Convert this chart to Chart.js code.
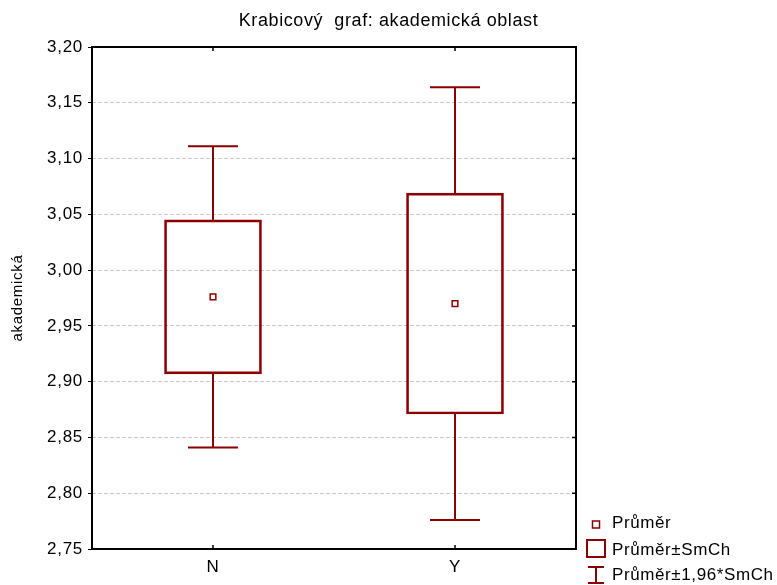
<!DOCTYPE html>
<html lang="cs">
  <head>
    <meta charset="UTF-8" />
    <title>Krabicový graf: akademická oblast</title>
    <script src="https://cdn.jsdelivr.net/npm/chart.js"></script>
    <style>
      body { margin: 0; background: #fff; }
      #wrap { width: 777px; height: 585px; }
    </style>
  </head>
  <body>
    <div id="wrap"><canvas id="boxChart"></canvas></div>
    <script>
      const categories = ["N", "Y"];
      const means = [2.976, 2.970];
      const boxLow = [2.907, 2.871];
      const boxHigh = [3.045, 3.069];
      const whiskerLow = [2.841, 2.776];
      const whiskerHigh = [3.111, 3.164];
      const legendLabels = ["Průměr", "Průměr±SmCh", "Průměr±1,96*SmCh"];
      const chartTitle = "Krabicový  graf: akademická oblast";

      const red = "#8b0000";
      const font = "Liberation Sans, Arial, sans-serif";

      const boxPlugin = {
        id: "boxExtras",
        beforeDraw(chart) {
          // the reference text is set a bit looser than Liberation Sans
          chart.ctx.letterSpacing = "0.7px";
        },
        beforeDatasetsDraw(chart) {
          const { ctx, scales } = chart;
          const x = scales.x, y = scales.y;
          ctx.save();
          ctx.strokeStyle = red;
          ctx.lineWidth = 2;
          categories.forEach((c, i) => {
            const cx = x.getPixelForValue(i);
            const half = 25;
            ctx.beginPath();
            ctx.moveTo(cx, y.getPixelForValue(whiskerHigh[i]));
            ctx.lineTo(cx, y.getPixelForValue(boxHigh[i]));
            ctx.moveTo(cx, y.getPixelForValue(boxLow[i]));
            ctx.lineTo(cx, y.getPixelForValue(whiskerLow[i]));
            ctx.moveTo(cx - half, y.getPixelForValue(whiskerHigh[i]));
            ctx.lineTo(cx + half, y.getPixelForValue(whiskerHigh[i]));
            ctx.moveTo(cx - half, y.getPixelForValue(whiskerLow[i]));
            ctx.lineTo(cx + half, y.getPixelForValue(whiskerLow[i]));
            ctx.stroke();
          });
          ctx.restore();
        },
        afterDraw(chart) {
          const { ctx, chartArea: a, scales } = chart;
          ctx.save();
          // title, centred on the page
          ctx.fillStyle = "#000";
          ctx.font = "18px " + font;
          ctx.letterSpacing = "0.6px";
          ctx.textAlign = "center";
          ctx.textBaseline = "middle";
          ctx.fillText(chartTitle, chart.width / 2, 21);
          ctx.letterSpacing = "0.6px";

          // plot frame
          ctx.strokeStyle = "#000";
          ctx.lineWidth = 2;
          ctx.strokeRect(a.left, a.top, a.right - a.left, a.bottom - a.top);
          // inner ticks
          ctx.lineWidth = 1.5;
          ctx.beginPath();
          categories.forEach((c, i) => {
            const cx = scales.x.getPixelForValue(i);
            ctx.moveTo(cx, a.bottom);
            ctx.lineTo(cx, a.bottom - 4);
            ctx.moveTo(cx, a.top);
            ctx.lineTo(cx, a.top + 4);
          });
          scales.y.ticks.forEach((t) => {
            const py = scales.y.getPixelForValue(t.value);
            ctx.moveTo(a.right, py);
            ctx.lineTo(a.right - 4, py);
          });
          ctx.stroke();

          // legend
          const lx = a.right + 20;
          ctx.textAlign = "left";
          ctx.strokeStyle = red;
          ctx.font = "17px " + font;
          ctx.lineWidth = 1.5;
          ctx.strokeRect(lx - 3.5, 521, 7, 7);
          ctx.fillText(legendLabels[0], lx + 16, 523);
          ctx.lineWidth = 2;
          ctx.strokeRect(lx - 9, 540, 18, 17);
          ctx.fillText(legendLabels[1], lx + 16, 550);
          ctx.beginPath();
          ctx.moveTo(lx - 8, 567);
          ctx.lineTo(lx + 8, 567);
          ctx.moveTo(lx, 567);
          ctx.lineTo(lx, 583);
          ctx.moveTo(lx - 8, 583);
          ctx.lineTo(lx + 8, 583);
          ctx.stroke();
          ctx.fillText(legendLabels[2], lx + 16, 575);
          ctx.restore();
        },
      };

      new Chart(document.getElementById("boxChart"), {
        data: {
          labels: categories,
          datasets: [
            {
              type: "bar",
              label: legendLabels[1],
              data: categories.map((c, i) => [boxLow[i], boxHigh[i]]),
              backgroundColor: "rgba(255,255,255,0)",
              borderColor: red,
              borderWidth: 2,
              borderSkipped: false,
              barThickness: 97,
              order: 2,
            },
            {
              type: "line",
              label: legendLabels[0],
              data: means,
              showLine: false,
              pointStyle: "rect",
              pointRadius: 4,
              pointBackgroundColor: "#fff",
              pointBorderColor: red,
              pointBorderWidth: 1.5,
              order: 1,
            },
          ],
        },
        options: {
          responsive: true,
          maintainAspectRatio: false,
          animation: false,
          layout: { padding: { top: 47, right: 201, bottom: 0, left: 0 } },
          plugins: {
            legend: { display: false },
            tooltip: { enabled: false },
          },
          scales: {
            x: {
              offset: true,
              grid: { display: false, drawTicks: false },
              border: { display: false },
              ticks: { color: "#000", font: { family: font, size: 17 }, padding: 8 },
              afterFit: (s) => { s.height = 36; },
            },
            y: {
              min: 2.75,
              max: 3.2,
              grid: {
                color: "#c8c8c8",
                drawTicks: true,
                tickLength: 4,
                tickColor: "#000",
                tickBorderDash: [],
              },
              border: { display: false, dash: [4, 2] },
              ticks: {
                stepSize: 0.05,
                color: "#000",
                padding: 5,
                font: { family: font, size: 17 },
                callback: (v) => v.toFixed(2).replace(".", ","),
              },
              title: {
                display: true,
                text: "akademická",
                color: "#000",
                font: { family: font, size: 15 },
                padding: { top: 9, bottom: 0 },
              },
              afterFit: (s) => { s.width = 92; },
            },
          },
        },
        plugins: [boxPlugin],
      });
    </script>
  </body>
</html>
